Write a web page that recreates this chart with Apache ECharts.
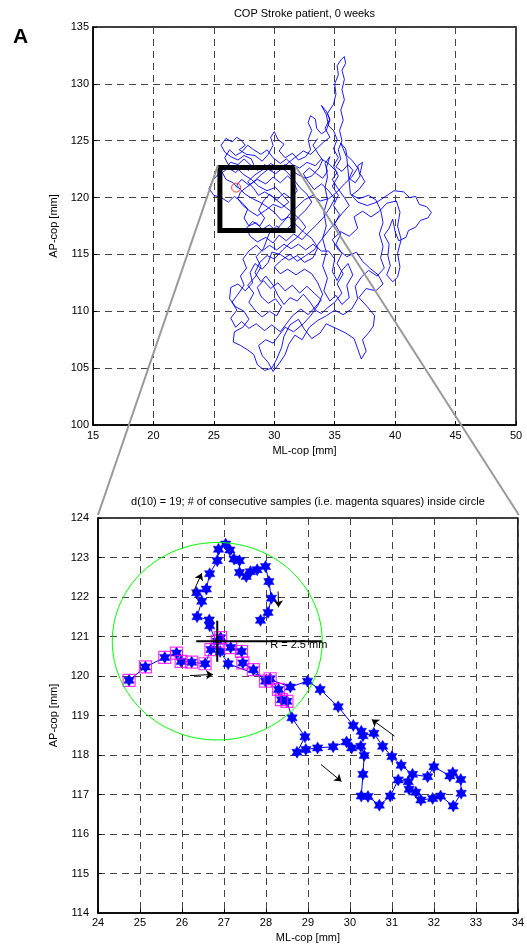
<!DOCTYPE html>
<html><head><meta charset="utf-8">
<script src="https://cdn.jsdelivr.net/npm/echarts@6/dist/echarts.min.js"></script>
<style>html,body{margin:0;padding:0;background:#fff}#c{width:527px;height:944px}</style>
</head><body><div id="c"></div>
<script>
const panelLetter = 'A';
const topTitle = 'COP Stroke patient, 0 weeks';
const bottomTitle = 'd(10) = 19; # of consecutive samples (i.e. magenta squares) inside circle';
const xName = 'ML-cop [mm]';
const yName = 'AP-cop [mm]';
const radiusLabel = 'R = 2.5 mm';

// full COP trajectory [ML, AP] (mm)
const copPath = [
[27.0,120.8],[26.6,121.3],[26.0,121.6],[25.7,122.2],[26.2,122.6],[26.8,122.2],[27.3,122.7],[27.9,122.4],[28.3,122.9],[28.1,123.4],[27.5,123.7],[27.0,123.3],[26.4,123.6],[25.9,124.0],[25.6,124.6],[26.0,125.2],[26.5,124.9],[26.9,125.3],[27.3,125.0],[27.6,124.6],[27.1,124.2],[27.7,123.8],[28.4,123.7],[29.0,123.2],[29.5,123.8],[29.9,124.6],[29.7,125.3],[30.0,125.8],[30.3,125.1],[30.8,124.7],[30.4,124.1],[30.9,123.5],[31.5,123.9],[32.0,123.3],[32.6,123.6],[33.0,124.2],[32.8,125.1],[33.1,125.9],[32.8,126.6],[33.0,127.2],[33.4,126.9],[33.5,126.1],[33.9,125.6],[34.3,125.9],[34.6,126.8],[34.4,127.4],[34.9,128.2],[35.1,129.1],[35.0,130.0],[35.3,130.8],[35.2,131.6],[35.5,132.1],[35.8,132.4],[35.9,131.8],[35.6,131.2],[35.8,130.4],[35.6,129.5],[35.8,128.6],[35.5,127.7],[35.7,126.8],[35.4,125.9],[35.6,125.0],[35.3,124.2],[35.5,123.4],[35.1,122.7],[35.6,122.3],[36.1,122.9],[36.5,122.4],[36.2,121.7],[36.7,121.3],[37.1,121.9],[36.9,122.8],[37.3,123.1],[37.1,122.1],[37.5,121.4],[37.0,120.7],[36.4,120.2],[36.9,119.6],
[37.7,119.3],[38.5,119.6],[39.2,120.1],[39.9,120.6],[40.7,120.5],[41.2,120.0],[41.7,120.1],[42.0,119.4],[42.6,119.2],[43.0,118.7],[42.7,118.2],[42.1,118.0],[41.7,117.4],[41.1,117.1],[40.9,116.5],[40.3,116.2],[40.0,117.0],[39.8,118.1],[39.5,117.3],[39.1,116.7],[39.5,115.9],[39.4,114.9],[39.6,114.0],[39.3,113.2],[39.8,112.6],[40.2,113.0],[40.4,113.9],[40.2,115.1],[40.5,116.3],[40.2,117.5],[40.4,118.7],[40.1,119.7],[39.3,119.5],[38.7,118.8],[38.0,118.3],[37.3,118.8],[36.6,118.3],
[36.9,117.3],[36.2,116.6],[35.5,117.0],[34.8,116.3],[35.3,115.4],[36.0,114.8],[36.8,115.2],[37.3,114.4],[37.9,113.8],[38.6,113.2],[39.0,112.4],[38.4,111.8],[37.6,112.0],[37.0,111.2],[37.7,110.4],[38.3,109.6],[38.2,108.7],[37.8,108.1],[37.3,107.5],[37.6,106.5],[37.2,105.8],[36.9,106.7],[36.6,107.6],[35.9,108.1],[35.1,108.5],[34.3,108.9],[33.8,108.1],[33.1,107.6],[32.5,108.4],[32.0,109.3],[31.3,108.8],[30.8,107.8],[30.6,106.8],[30.2,105.8],[29.8,105.0],[29.2,104.8],[28.6,105.3],[28.3,106.2],[27.8,106.6],[27.2,107.0],[26.6,107.3],[26.7,108.2],[27.4,108.6],[27.9,109.3],[27.5,110.0],[26.8,110.4],[26.3,111.1],[26.4,112.1],[27.0,112.4],[27.6,111.8],[28.2,112.5],[28.0,113.4],[28.4,114.2],[29.0,113.7],[29.5,114.3],[29.8,115.2],[30.5,115.0],[31.2,114.5],[31.9,114.9],[32.5,114.3],[33.2,114.7],[33.6,115.6],[33.1,116.4],[32.5,116.9],[31.8,117.6],[31.2,118.3],[30.6,118.0],[30.0,118.7],[29.4,119.2],[28.8,119.6],[28.2,119.9],[27.6,120.3],[27.2,120.7],
[26.9,121.1],[27.3,121.6],[27.9,121.1],[28.6,121.6],[29.3,121.2],[29.9,121.8],[30.5,121.3],[31.1,121.9],[31.6,121.4],[31.9,120.6],[31.4,119.9],[30.8,120.4],[30.2,119.8],[29.6,120.3],[29.1,119.7],[28.7,118.9],[29.2,118.2],[28.8,117.5],[28.2,117.9],[27.7,117.3],[28.0,116.6],[28.6,116.1],[29.3,116.5],[29.9,116.0],[30.4,116.7],[31.0,116.2],[31.6,116.8],[32.3,116.3],[32.9,117.0],[33.5,117.6],[34.1,118.3],[34.6,119.1],[35.0,119.9],[34.5,120.6],[33.9,121.2],[33.3,120.7],[32.8,121.4],[32.4,122.1],[32.9,122.6],[33.5,122.1],[34.0,121.7],[34.4,122.3],[34.2,123.0],[34.6,123.6],[34.3,122.6],
[34.4,121.8],[34.2,120.9],[34.4,119.8],[34.1,118.7],[34.3,117.5],[34.0,116.4],[34.3,115.2],[34.0,114.0],[34.4,112.9],[34.1,111.8],[34.6,110.9],[35.1,111.4],[35.6,110.6],[36.2,111.2],[36.0,112.3],[36.5,113.2],[36.1,114.2],[35.6,113.6],[35.2,112.7],[34.8,113.5],[35.0,114.6],[34.5,115.3],
[33.9,115.3],[33.2,115.9],[32.6,115.4],[32.0,115.9],[31.4,115.5],[30.8,115.9],[30.2,115.4],[29.6,115.8],[29.0,115.3],[28.5,115.8],[27.9,115.3],[27.4,114.6],[27.7,113.8],[27.2,113.1],[27.5,112.3],[27.0,111.5],[26.5,110.8],[26.9,110.1],[26.4,109.4],[26.8,108.6],[27.3,109.1],[27.9,108.5],[28.5,108.9],[29.2,108.3],[29.8,108.8],[30.5,108.2],[31.0,108.9],[31.5,109.6],[32.2,110.2],[32.8,109.7],[33.4,110.4],[33.9,111.0],[33.3,111.6],[32.7,112.2],[32.1,111.6],[31.5,112.3],[30.9,111.8],[30.3,112.5],[29.7,112.0],[29.1,112.7],[28.6,112.1],[28.9,111.3],[29.5,110.7],[30.1,111.1],[30.6,110.4],[30.2,109.6],[29.6,110.0],[29.0,109.5],[28.4,110.1],[27.9,110.8],[28.3,111.6],[27.8,112.3],[28.4,113.0],[28.9,113.9],[28.5,114.8],[29.1,115.5],[29.6,116.9],[30.2,117.5],[30.8,117.0],[31.4,117.6],[32.0,118.3],[32.6,118.9],[33.1,119.6],[32.7,120.3],[32.1,120.9],[31.6,121.6],[31.0,122.3],[30.4,122.8],[29.8,122.4],[29.2,122.9],[28.6,122.4],[28.0,122.9],[27.5,123.4],[27.0,122.9],[26.4,123.1],[25.9,122.6],[25.4,122.1],[24.9,121.5],[24.6,120.8],[25.0,120.2],[25.6,120.0],[26.2,119.6],[26.7,120.1],[27.3,119.6],[27.8,119.0],[27.5,118.2],[27.9,117.5],[28.5,117.8],[29.0,117.2],[29.6,117.6],[30.1,117.1],
[30.7,117.8],[31.3,118.6],[31.9,119.2],[32.5,119.8],[33.2,120.2],[33.8,119.7],[34.5,119.9],[35.2,120.5],[35.8,121.2],[36.4,121.8],[36.9,122.6],[36.5,123.2],[36.0,123.7],[35.9,124.3],[35.5,124.8],[36.0,123.5],[36.3,120.3],[37.0,119.9],[37.8,120.2],[38.4,119.8],[38.8,118.9],[39.0,117.8],[38.7,116.8],[39.0,115.7],[38.8,114.7],[39.1,113.8],[38.5,113.1],[37.8,113.6],[37.2,113.0],[36.7,112.2],[36.9,111.1],[36.4,110.2],[35.7,109.7],[35.0,110.1],[34.3,109.6],[33.6,109.2],[32.9,108.6],[32.3,107.5],[31.7,107.9],[31.2,107.1],[30.9,106.2],[30.4,105.4],[29.9,104.7],[29.5,105.5],[29.0,106.1],[28.7,107.0],[29.3,107.5],[29.9,107.2],[30.4,107.9],[30.9,108.6],[31.6,108.2],[32.4,108.9],[33.0,109.6],[33.6,110.5],[34.0,111.5],[33.6,112.5],[33.1,113.3],[32.5,113.7],[31.8,113.2],[31.1,113.7],[30.5,113.3],[30.0,113.9],[30.6,114.5],[31.3,115.0],[31.9,114.4],[32.6,114.9],[33.3,115.4],[33.9,116.3],[34.5,117.1],[35.1,117.9],[35.6,118.6],[36.2,119.3],[35.8,120.0],[35.2,120.9],[34.8,121.6],[35.2,122.2],
[34.6,122.9],[33.9,123.4],[33.4,122.8],[32.7,123.1],[32.1,122.6],[31.5,122.9],[31.0,123.4],[30.5,123.0],[29.9,123.5],[29.4,124.2],[28.9,123.8],[28.3,124.2],[27.8,124.6],[27.3,124.0],[26.8,123.7],[26.3,124.2],[25.9,123.5],[26.2,122.9],[26.9,122.6],[27.5,122.0],[28.1,121.6],[28.7,121.0],[29.4,120.6],[30.1,120.9],[30.7,120.2],[31.2,119.6],[30.6,119.1],[29.9,119.4],[29.3,118.9],[28.6,118.4],[28.0,118.8],[27.4,119.3],[27.0,119.9],[27.2,120.5],[27.7,120.9],[28.2,121.3],[28.9,122.0],[29.5,122.5],[30.1,122.1],[30.7,122.6],[31.2,123.1],[31.8,123.6],[32.4,124.1],[33.0,123.8],[33.6,124.4],[34.1,124.9],[34.6,125.3],[34.2,126.1],[34.6,126.9],[34.3,127.6],[33.9,128.1],[34.3,127.3],[34.5,126.3],
[34.9,125.9],[35.2,125.1],[34.9,124.3],[35.3,123.5],[34.9,122.8],[35.3,121.9],[34.8,121.0],[35.3,120.2],[34.9,119.3],[35.4,118.5],[35.0,117.7],[35.5,116.8],[35.1,115.9],[35.6,115.1],[35.2,114.2],[35.7,113.3],[35.2,112.4],[35.6,111.6],[35.0,110.8],[34.4,110.3],[33.9,109.8],[33.4,110.1],[32.9,110.9],[32.4,111.5],[31.9,110.9],[31.3,111.2],[30.8,110.6],[30.3,111.4],[29.9,112.3],[29.3,113.1],[28.9,112.6],[28.4,113.4],[28.8,114.3],[29.4,114.9],[30.0,114.6],[30.7,115.4],[31.3,116.0],[31.9,116.5],[32.6,117.4],[32.2,118.0],[31.6,118.6],[31.0,119.1],[30.4,119.6],[29.8,120.1],[29.2,120.5],[28.7,120.2],[28.3,120.8],[27.8,121.4],[28.4,122.0],[29.1,122.5],[29.7,123.0],[30.3,122.6],[30.9,122.9],[31.4,122.4],[32.0,122.0],[32.6,121.7],[33.1,121.9],[33.7,122.6],[34.0,123.3],[33.6,123.9],[33.2,124.6],[33.6,125.2]
];
// zoom window rectangle drawn on the full trajectory
const zoomBoxML = [25.5, 31.55];
const zoomBoxAP = [117.1, 122.65];
// circle centre (sample 10) and radius
const circleCentre = [26.84, 120.88];
const circleRadius = 2.5;
// zoomed samples in order [ML, AP]
const zoomSamples = [
[24.74,119.89],[25.13,120.23],[25.59,120.47],[25.87,120.58],[25.98,120.37],[26.23,120.35],[26.55,120.31],[26.69,120.67],[26.84,120.88],[26.92,120.97],[27.16,120.72],[27.42,120.62],[27.45,120.33],[27.70,120.16],[27.99,119.87],[28.10,119.93],[28.30,119.66],[28.37,119.40],[28.50,119.36],
[28.62,118.94],[28.93,118.46],[28.74,118.07],[28.95,118.14],[29.23,118.18],[29.60,118.21],[29.92,118.33],[30.04,118.18],[30.26,118.22],[30.34,117.99],[30.31,117.51],[30.27,116.96],[30.43,116.95],[30.70,116.73],[30.96,116.96],[31.15,117.37],[31.39,117.32],[31.41,117.13],[31.57,117.06],[31.69,116.86],[31.97,116.90],[32.16,116.96],[32.46,116.71],[32.65,117.03],[32.64,117.38],[32.45,117.55],[32.38,117.47],[32.00,117.70],[31.85,117.45],[31.49,117.51],[31.22,117.74],[31.00,117.96],[30.78,118.22],[30.57,118.55],[30.31,118.49],[30.27,118.60],[30.08,118.75],[29.72,119.22],[29.29,119.66],[28.99,119.87],[28.58,119.72],
[27.10,120.31],[26.91,120.62],[26.66,121.27],[26.65,121.42],[26.36,121.50],[26.47,121.89],[26.35,122.11],[26.58,122.20],[26.66,122.59],[26.84,122.92],[26.87,123.21],[27.04,123.34],[27.14,123.19],[27.24,122.96],[27.37,122.92],[27.37,122.62],[27.53,122.52],[27.63,122.64],[27.79,122.69],[27.99,122.77],[28.07,122.39],[28.13,121.97],[28.05,121.61],[27.87,121.41]
];
const insideCount = 19;
// direction arrows [from, to]
const arrows = [
[[26.26,122.10],[26.47,122.60]],
[[28.29,122.14],[28.30,121.74]],
[[26.19,120.01],[26.74,120.04]],
[[29.31,117.76],[29.80,117.33]],
[[31.06,118.48],[30.52,118.90]]
];

const FONT = '"Liberation Sans", Arial, Helvetica, sans-serif';
const hexagram = 'path://M0,-10 L2.89,-5 L8.66,-5 L5.77,0 L8.66,5 L2.89,5 L0,10 L-2.89,5 L-8.66,5 L-5.77,0 L-8.66,-5 L-2.89,-5 Z';

function axisCommon(min, max, interval, margin, nameGap, isY) {
  return {
    type: 'value', min, max, interval,
    name: isY ? yName : xName, nameLocation: 'middle', nameGap,
    nameTextStyle: { color: '#000', fontFamily: FONT, fontSize: 11 },
    axisLine: { show: true, onZero: false, lineStyle: { color: '#000', width: 1.5 } },
    axisTick: { show: true, inside: true, length: 4, lineStyle: { color: '#000' } },
    axisLabel: { color: '#000', fontFamily: FONT, fontSize: 11, margin },
    splitLine: { show: true, lineStyle: { color: '#444', type: [7, 5], width: 1 } }
  };
}

const chart = echarts.init(document.getElementById('c'), null, { renderer: 'canvas' });
const boxPath = [[zoomBoxML[0], zoomBoxAP[0]], [zoomBoxML[1], zoomBoxAP[0]], [zoomBoxML[1], zoomBoxAP[1]], [zoomBoxML[0], zoomBoxAP[1]], [zoomBoxML[0], zoomBoxAP[0]]];

chart.setOption({
  animation: false,
  backgroundColor: '#fff',
  grid: [
    { left: 93, top: 27, width: 423, height: 398, show: true, borderColor: '#000', borderWidth: 1.5, containLabel: false },
    { left: 98, top: 518, width: 423, height: 396, show: true, borderColor: '#000', borderWidth: 1.5, containLabel: false }
  ],
  xAxis: [
    Object.assign(axisCommon(15, 50, 5, 5, 20, false), { gridIndex: 0 }),
    Object.assign(axisCommon(24, 34, 1, 4, 19, false), { gridIndex: 1 })
  ],
  yAxis: [
    Object.assign(axisCommon(100, 135, 5, 4, 34, true), { gridIndex: 0 }),
    Object.assign(axisCommon(114, 124, 1, 9, 33, true), { gridIndex: 1 })
  ],
  series: [
    { type: 'line', xAxisIndex: 0, yAxisIndex: 0, data: copPath, symbol: 'none', z: 2,
      lineStyle: { color: '#0000ff', width: 0.9 } },
    { type: 'line', xAxisIndex: 0, yAxisIndex: 0, data: boxPath, symbol: 'none', z: 5,
      lineStyle: { color: '#000', width: 5, cap: 'square', join: 'miter' } },
    { type: 'scatter', xAxisIndex: 0, yAxisIndex: 0, data: [circleCentre], symbol: 'circle', symbolSize: 9, z: 6,
      itemStyle: { color: 'rgba(0,0,0,0)', borderColor: '#ff0000', borderWidth: 1 } },
    { type: 'line', xAxisIndex: 1, yAxisIndex: 1, data: zoomSamples, symbol: hexagram, symbolSize: 12, symbolKeepAspect: true,
      showAllSymbol: true, z: 3,
      lineStyle: { color: '#0000ff', width: 1 }, itemStyle: { color: '#0000ff', borderColor: '#0000ff', borderWidth: 0.5 } },
    { type: 'scatter', xAxisIndex: 1, yAxisIndex: 1, data: zoomSamples.slice(0, insideCount), symbol: 'rect', symbolSize: 12, z: 4,
      itemStyle: { color: 'rgba(0,0,0,0)', borderColor: '#ff00ff', borderWidth: 1.2 } },
    { type: 'line', xAxisIndex: 1, yAxisIndex: 1, symbol: 'none', z: 5,
      data: [[circleCentre[0] - 0.5, circleCentre[1]], [circleCentre[0] + circleRadius, circleCentre[1]]],
      lineStyle: { color: '#000', width: 2 } },
    { type: 'line', xAxisIndex: 1, yAxisIndex: 1, symbol: 'none', z: 5,
      data: [[circleCentre[0], circleCentre[1] - 0.52], [circleCentre[0], circleCentre[1] + 0.52]],
      lineStyle: { color: '#000', width: 2 },
      markLine: { silent: true, symbol: ['none', 'arrow'], symbolSize: 7, animation: false,
        lineStyle: { color: '#000', width: 1, type: 'solid' }, label: { show: false },
        data: arrows.map(a => [{ coord: a[0] }, { coord: a[1] }]) } }
  ]
});

const g0 = { xAxisIndex: 0, yAxisIndex: 0 };
const g1 = { xAxisIndex: 1, yAxisIndex: 1 };
const tl = chart.convertToPixel(g0, [zoomBoxML[0], zoomBoxAP[1]]);
const tr = chart.convertToPixel(g0, [zoomBoxML[1], zoomBoxAP[1]]);
const bl = chart.convertToPixel(g1, [24, 124]);
const br = chart.convertToPixel(g1, [34, 124]);
const cc = chart.convertToPixel(g1, circleCentre);
const cx = chart.convertToPixel(g1, [circleCentre[0] + circleRadius, circleCentre[1] + circleRadius]);
const lab = chart.convertToPixel(g1, [28.1, 120.78]);
const t0l = chart.convertToPixel(g0, [15, 135]);
const t0r = chart.convertToPixel(g0, [50, 135]);
const t1l = chart.convertToPixel(g1, [24, 124]);
const t1r = chart.convertToPixel(g1, [34, 124]);

chart.setOption({
  graphic: [
    { type: 'line', z: 100, shape: { x1: tl[0] - 2, y1: tl[1] - 2, x2: bl[0], y2: bl[1] - 3 }, style: { stroke: '#999', lineWidth: 2 } },
    { type: 'line', z: 100, shape: { x1: tr[0] + 2, y1: tr[1] - 2, x2: br[0] + 1, y2: br[1] - 3 }, style: { stroke: '#999', lineWidth: 2 } },
    { type: 'ellipse', z: 50, shape: { cx: cc[0], cy: cc[1], rx: cx[0] - cc[0], ry: cc[1] - cx[1] }, style: { fill: 'none', stroke: '#00ff00', lineWidth: 1 } },
    { type: 'text', z: 60, x: lab[0], y: lab[1], style: { text: radiusLabel, font: '11px ' + FONT, fill: '#000', textVerticalAlign: 'middle', verticalAlign: 'middle' } },
    { type: 'text', z: 60, x: 13, y: 27, style: { text: panelLetter, font: 'bold 21px ' + FONT, fill: '#000' } },
    { type: 'text', z: 60, x: (t0l[0] + t0r[0]) / 2, y: t0l[1] - 13, style: { text: topTitle, font: '11px ' + FONT, fill: '#000', align: 'center', verticalAlign: 'middle' } },
    { type: 'text', z: 60, x: (t1l[0] + t1r[0]) / 2, y: t1l[1] - 16, style: { text: bottomTitle, font: '11px ' + FONT, fill: '#000', align: 'center', verticalAlign: 'middle' } }
  ]
});
</script>
</body></html>
